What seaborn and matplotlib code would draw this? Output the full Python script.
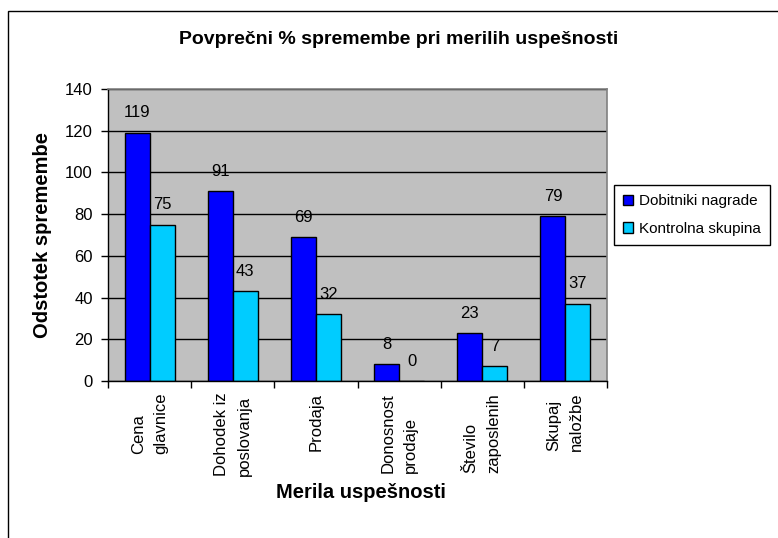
import pandas as pd
import matplotlib.pyplot as plt
import matplotlib.patches as mpatches
import seaborn as sns

# Podatki z grafa
kategorije = ['Cena\nglavnice', 'Dohodek iz\nposlovanja', 'Prodaja',
              'Donosnost\nprodaje', 'Število\nzaposlenih', 'Skupaj\nnaložbe']
dobitniki = [119, 91, 69, 8, 23, 79]
kontrolna = [75, 43, 32, 0, 7, 37]
skupine = ['Dobitniki nagrade', 'Kontrolna skupina']
barve = ['#0000FF', '#00CCFF']

df = pd.DataFrame({
    'Merilo': kategorije * 2,
    'Vrednost': dobitniki + kontrolna,
    'Skupina': [skupine[0]] * len(kategorije) + [skupine[1]] * len(kategorije),
})

sns.set_style('white')
plt.rcParams['font.family'] = ['Liberation Sans', 'DejaVu Sans']
plt.rcParams['text.color'] = 'black'
plt.rcParams['xtick.color'] = 'black'
plt.rcParams['ytick.color'] = 'black'
plt.rcParams['axes.labelcolor'] = 'black'

fig = plt.figure(figsize=(7.78, 5.38), dpi=100)
ax = fig.add_axes([108 / 778, 1 - 381 / 538, 499 / 778, 292 / 538])
ax.set_facecolor('#C0C0C0')

sns.barplot(data=df, x='Merilo', y='Vrednost', hue='Skupina', palette=barve,
            width=0.6, gap=0, edgecolor='black', linewidth=1, ax=ax,
            saturation=1, legend=True)

# oznake vrednosti nad stolpci
for cont in ax.containers:
    ax.bar_label(cont, padding=9, fontsize=12, color='black')

ax.set_ylim(0, 140)
ax.set_yticks(range(0, 141, 20))
ax.yaxis.grid(True, color='black', linewidth=1)
ax.set_axisbelow(True)
ax.tick_params(axis='y', labelsize=12, left=True, length=5, width=1, color='black', pad=6)

# crtice med kategorijami
ax.set_xlim(-0.5, len(kategorije) - 0.5)
ax.set_xticks([i - 0.5 for i in range(len(kategorije) + 1)], minor=True)
ax.tick_params(axis='x', which='minor', bottom=True, length=5, width=1, color='black')
ax.tick_params(axis='x', which='major', bottom=False, labelsize=12, pad=5)
ax.set_xticklabels(kategorije, rotation=90, va='top', ha='center',
                   multialignment='left', linespacing=1.65)

for s in ['left', 'bottom']:
    ax.spines[s].set_color('black')
    ax.spines[s].set_linewidth(1)
for s in ['top', 'right']:
    ax.spines[s].set_color('#808080')
    ax.spines[s].set_linewidth(1.2)

ax.set_xlabel('Merila uspešnosti', fontsize=14.5, fontweight='bold')
ax.xaxis.set_label_coords(253 / 499, -(493 - 381) / 292, transform=ax.transAxes)
ax.xaxis.label.set_va('center')
ax.set_ylabel('Odstotek spremembe', fontsize=14.5, fontweight='bold')
ax.yaxis.set_label_coords(-(108 - 42) / 499, 0.5)
ax.yaxis.label.set_va('center')

fig.text(0.512, 1 - 40 / 538, 'Povprečni % spremembe pri merilih uspešnosti',
         ha='center', va='center', fontsize=14, fontweight='bold')

ax.legend(loc='upper left', bbox_to_anchor=(614 / 778, 1 - 185 / 538),
          bbox_transform=fig.transFigure, fontsize=11, frameon=True,
          fancybox=False, edgecolor='black', framealpha=1,
          handlelength=0.65, handleheight=0.65, handletextpad=0.4,
          borderpad=0.6, labelspacing=0.9, borderaxespad=0)
ax.get_legend().get_frame().set_linewidth(1)

# okvir okoli slike
fig.patches.append(mpatches.Rectangle((8 / 778, -0.5), 2, 0.5 + 1 - 11 / 538,
                                      transform=fig.transFigure, fill=False,
                                      edgecolor='black', linewidth=1))

fig.savefig('out.png', dpi=100)
